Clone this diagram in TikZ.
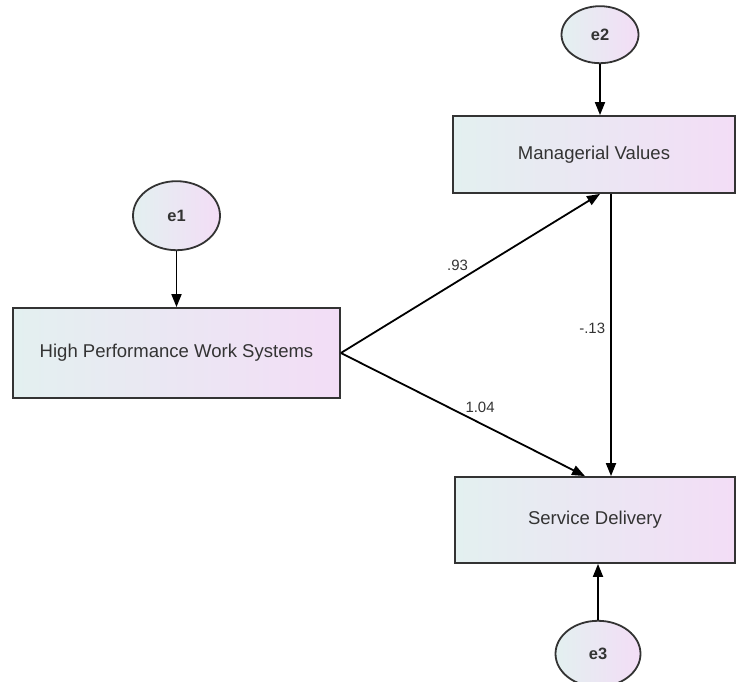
\documentclass[tikz,border=0pt]{standalone}
\usepackage{fontspec}
\setsansfont{Liberation Sans}
\usetikzlibrary{arrows.meta, positioning, shapes.geometric}
\definecolor{fillleft}{HTML}{E3F0F0}
\definecolor{fillright}{HTML}{F3DDF6}
\definecolor{ink}{HTML}{333333}
\begin{document}
\begin{tikzpicture}[x=1bp, y=1bp,
    box/.style={draw=ink, line width=1.8bp, left color=fillleft, right color=fillright, inner sep=0pt, text=ink, font=\sffamily\fontsize{18.6}{20}\selectfont},
    err/.style={ellipse, draw=ink, line width=1.8bp, left color=fillleft, right color=fillright, inner sep=0pt, text=ink, font=\sffamily\bfseries\fontsize{16.5}{18}\selectfont},
    arr/.style={-{Triangle[length=13bp, width=10bp]}, line width=1.8bp},
    coef/.style={text=ink, inner sep=1bp, font=\sffamily\fontsize{15}{17}\selectfont}]
\useasboundingbox (0,0) rectangle (739,682);
\node[box, minimum width=327bp, minimum height=90bp] (hpws) at (176.5,329) {High Performance Work Systems};
\node[box, minimum width=282bp, minimum height=77bp] (mv) at (594,527.5) {Managerial Values};
\node[box, minimum width=280bp, minimum height=86bp] (sd) at (595,162) {Service Delivery};
\node[err, minimum width=87bp, minimum height=69bp, above=56bp of hpws] (e1) {e1};
\node[err, minimum width=77bp, minimum height=57bp, above=51bp of mv, xshift=6bp] (e2) {e2};
\node[err, minimum width=85bp, minimum height=66bp, below=56bp of sd, xshift=3bp] (e3) {e3};
\draw[arr] (e1) -- (hpws);
\draw[arr] (e2) -- (e2 |- mv.north);
\draw[arr] (e3) -- (e3 |- sd.south);
\draw[arr] (hpws.east) -- node[coef, pos=0.45, above=9bp] {.93} ([xshift=6bp]mv.south);
\draw[arr] (hpws.east) -- node[coef, pos=0.57, above=9bp] {1.04} ([xshift=-10bp]sd.north);
\draw[arr] ([xshift=17bp]mv.south) -- node[coef, pos=0.475, left=4bp] {-.13} ([xshift=17bp]mv.south |- sd.north);
\end{tikzpicture}
\end{document}
